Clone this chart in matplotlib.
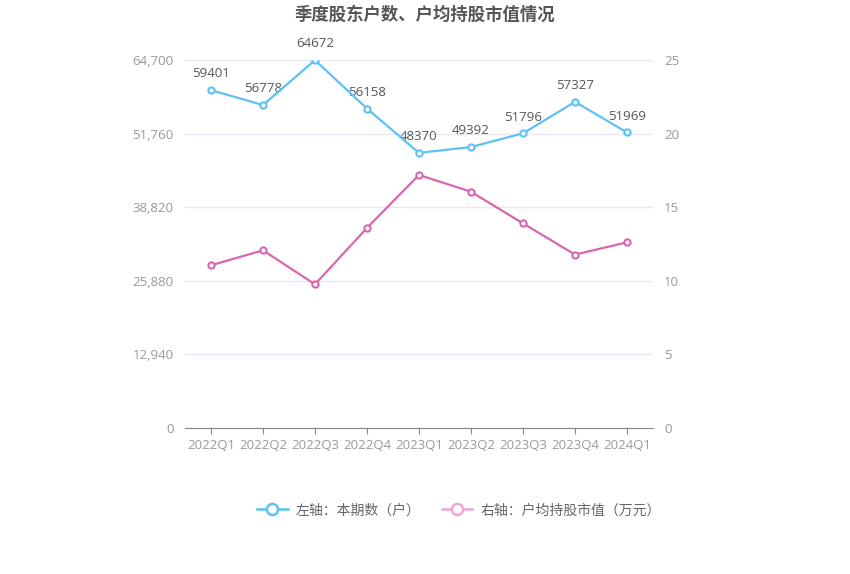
import matplotlib
matplotlib.use("Agg")
import matplotlib.pyplot as plt
from matplotlib.lines import Line2D

plt.rcParams['font.family'] = ['Noto Sans CJK SC', 'DejaVu Sans']
num_font = "Open Sans"

quarters = ["2022Q1", "2022Q2", "2022Q3", "2022Q4", "2023Q1",
            "2023Q2", "2023Q3", "2023Q4", "2024Q1"]
holders = [59401, 56778, 64672, 56158, 48370, 49392, 51796, 57327, 51969]
avg_value = [11.05, 12.07, 9.76, 13.59, 17.19, 16.05, 13.9, 11.78, 12.61]

left_ticks = [0, 12940, 25880, 38820, 51760, 64700]
right_ticks = [0, 5, 10, 15, 20, 25]

blue = "#5bc2f5"
pink = "#d966b0"
grid_c = "#e6e8f2"
tick_c = "#999999"

fig = plt.figure(figsize=(8.5, 5.74), dpi=100)
ax = fig.add_axes([0.2176, 0.2544, 0.5506, 0.6411])
ax2 = ax.twinx()

x = list(range(len(quarters)))

ax.plot(x, holders, color=blue, lw=1.6, marker="o", ms=4.5,
        mfc="white", mec=blue, mew=1.5, zorder=5)
for xi, v in zip(x, holders):
    ax.annotate(str(v), (xi, v), xytext=(0, 7), textcoords="offset points",
                ha="center", va="bottom", fontsize=9.5, color="#555555",
                family=num_font)

ax2.plot(x, avg_value, color=pink, lw=1.6, marker="o", ms=4.5,
         mfc="white", mec=pink, mew=1.5, zorder=5)

ax.set_xlim(-0.5, len(quarters) - 0.5)
ax.set_ylim(0, 64700)
ax2.set_ylim(0, 25)
ax.set_yticks(left_ticks)
ax.set_yticklabels([f"{t:,}" for t in left_ticks], family=num_font)
ax2.set_yticks(right_ticks)
ax2.set_yticklabels([str(t) for t in right_ticks], family=num_font)
ax.set_xticks(x)
ax.set_xticklabels(quarters, family=num_font)

ax.grid(axis="y", color=grid_c, lw=1)
ax.set_axisbelow(True)

for a in (ax, ax2):
    for s in ("top", "left", "right", "bottom"):
        a.spines[s].set_visible(False)
ax.spines["bottom"].set_visible(True)
ax.spines["bottom"].set_color("#888888")

ax.tick_params(axis="x", colors="#888888", labelcolor=tick_c, labelsize=9.5,
               length=4, pad=4)
ax.tick_params(axis="y", length=0, labelcolor=tick_c, labelsize=9.5, pad=8)
ax2.tick_params(axis="y", length=0, labelcolor=tick_c, labelsize=9.5, pad=8)

fig.text(0.5, 0.975, "季度股东户数、户均持股市值情况", ha="center", va="center",
         fontsize=12.5, fontweight="bold", color="#555555")

handles = [
    Line2D([], [], color=blue, lw=1.8, marker="o", ms=8, mfc="white", mec=blue, mew=1.8),
    Line2D([], [], color="#f0a6d3", lw=1.8, marker="o", ms=8, mfc="white", mec="#f0a6d3", mew=1.8),
]
fig.legend(handles, ["左轴：本期数（户）", "右轴：户均持股市值（万元）"],
           loc="center", bbox_to_anchor=(0.54, 0.111), ncol=2, frameon=False,
           fontsize=10, labelcolor="#666666", handlelength=2.2, columnspacing=1.5,
           handletextpad=0.6)

fig.savefig("out.png", dpi=100)
